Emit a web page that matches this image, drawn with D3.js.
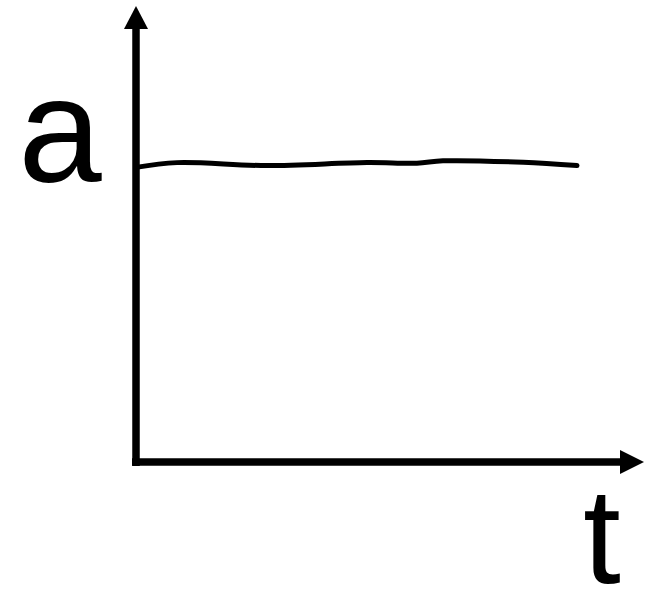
<html>
  <head>
    <style>
      body {
        margin:0;
        background:#fff;
      }
      .label {
        font-family:"Liberation Sans", Arial, sans-serif;
        fill:#000;
      }
    </style>
  </head>
  <body>
    <div class="graph"></div>
    <script src="https://d3js.org/d3.v7.min.js"></script>
    <script>
      // sketch values: time and the (almost constant) a
      var tValues = [0, 0.93, 2.97, 5.24, 6.37, 6.96, 8.78, 10];
      var aValues = [9.92, 10.08, 9.98, 10.08, 10.06, 10.14, 10.09, 9.98];
      var axisLabels = ["a", "t"];

      var width = 654;
      var height = 595;

      var x = d3.scaleLinear().domain([0, 10]).range([136, 577]);
      var y = d3.scaleLinear().domain([0, 10]).range([462, 165]);

      var svg = d3.select(".graph").append("svg")
        .attr("width", width)
        .attr("height", height);

      // axes, drawn past the data range with arrow heads
      var x0 = x(0), y0 = y(0);
      var xEnd = 644, yEnd = 6;

      svg.append("line")
        .attr("x1", x0).attr("y1", y0 + 4)
        .attr("x2", x0).attr("y2", yEnd + 20)
        .attr("stroke", "#000").attr("stroke-width", 7.5);
      svg.append("line")
        .attr("x1", x0 - 4).attr("y1", y0)
        .attr("x2", xEnd - 20).attr("y2", y0)
        .attr("stroke", "#000").attr("stroke-width", 7.5);

      svg.append("path")
        .attr("d", "M" + x0 + "," + yEnd + "L" + (x0 + 12) + "," + (yEnd + 23) +
          "L" + (x0 - 12) + "," + (yEnd + 23) + "Z")
        .attr("fill", "#000");
      svg.append("path")
        .attr("d", "M" + xEnd + "," + y0 + "L" + (xEnd - 24) + "," + (y0 - 12) +
          "L" + (xEnd - 24) + "," + (y0 + 12) + "Z")
        .attr("fill", "#000");

      var line = d3.line()
        .curve(d3.curveCatmullRom)
        .x(function (d, i) { return x(tValues[i]); })
        .y(function (d) { return y(d); });

      svg.append("path")
        .datum(aValues)
        .attr("d", line)
        .attr("fill", "none")
        .attr("stroke", "#000")
        .attr("stroke-width", 5)
        .attr("stroke-linecap", "round");

      svg.append("text")
        .attr("class", "label")
        .attr("x", 60)
        .attr("y", 182)
        .attr("text-anchor", "middle")
        .style("font-size", "150px")
        .text(axisLabels[0]);

      svg.append("text")
        .attr("class", "label")
        .attr("x", 602)
        .attr("y", 583)
        .attr("text-anchor", "middle")
        .style("font-size", "136px")
        .text(axisLabels[1]);
    </script>
  </body>
</html>
